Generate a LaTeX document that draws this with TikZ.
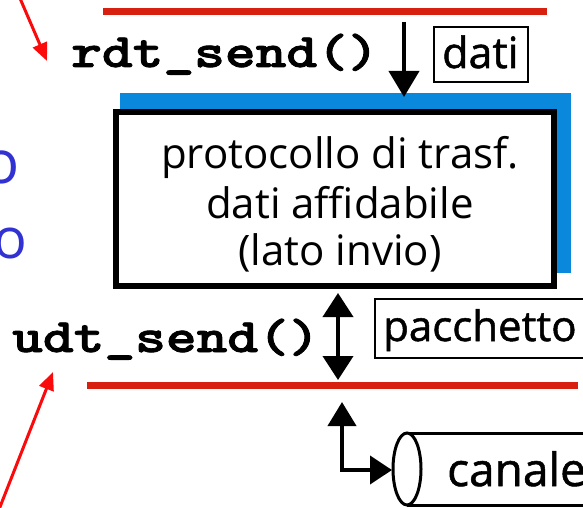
\documentclass[tikz,border=0pt]{standalone}
\usepackage{fontspec}
\setmainfont{Open Sans}
\newfontfamily\heavyfont[FakeBold=1.2]{Open Sans}
\newfontfamily\codefont[Extension=.otf,FakeBold=1.6]{lmmonolt10-bold}
\usetikzlibrary{arrows.meta}
\definecolor{wirered}{RGB}{216,32,16}
\definecolor{pointred}{RGB}{250,10,10}
\definecolor{shadeblue}{RGB}{10,136,220}
\definecolor{noteblue}{RGB}{50,50,210}
\tikzset{
  txt/.style={inner sep=0pt, anchor=base west},
  codelbl/.style={txt, font=\codefont\fontsize{48}{48}\selectfont},
  proto/.style={inner sep=0pt, anchor=base, font=\fontsize{42}{48}\selectfont},
  wire/.style={wirered, line width=7pt},
  pointer/.style={pointred, line width=3pt, -{Triangle[length=18pt,width=15pt]}},
  flow/.style={line width=4pt, -{Triangle[length=26pt,width=30pt]}},
  flowboth/.style={line width=4pt, {Triangle[length=24pt,width=30pt]}-{Triangle[length=24pt,width=30pt]}},
  tag/.style={draw, line width=2pt, inner sep=0pt}
}
\begin{document}
\begin{tikzpicture}[x=1pt,y=-1pt]
\useasboundingbox (0,0) rectangle (583,508);

% service lines (upper and lower interface)
\coordinate (topL) at (103,12);
\coordinate (topR) at (547,12);
\draw[wire] (topL) -- (topR);
\coordinate (botL) at (87,385);
\coordinate (botR) at (578,385);
\draw[wire] (botL) -- (botR);

% partially visible side notes
\node[txt, text=noteblue, font=\fontsize{60}{60}\selectfont] (noteA) at (-17,183) {o};
\node[txt, text=noteblue, font=\fontsize{56}{56}\selectfont] (noteB) at (-7,258) {o};

% red pointers
\coordinate (pA0) at (19,-4);
\coordinate (pA1) at (47,61);
\draw[pointer] (pA0) -- (pA1);
\coordinate (pB0) at (-2,512);
\coordinate (pB1) at (53,372);
\draw[pointer] (pB0) -- (pB1);

% function names
\node[codelbl] (rdt) at (71,67) {\scalebox{1.22}[1]{rdt\_send()}};
\node[codelbl] (udt) at (12,352) {\scalebox{1.22}[1]{udt\_send()}};

% protocol box with its blue shadow
\fill[shadeblue] (120,93) rectangle (571,273);
\draw[line width=6pt, fill=white] (116,112) rectangle (554,286);
\node[proto] (t1) at (340,168) {protocollo di trasf.};
\node[proto] (t2) at (340,218) {dati affidabile};
\node[proto] (t3) at (340,265) {(lato invio)};

% data coming down from the upper layer
\coordinate (inTop) at (404,22);
\coordinate (inBot) at (404,97);
\draw[flow] (inTop) -- (inBot);
\draw[tag] (434,27) rectangle (528,82);
\node[txt, font=\heavyfont\fontsize{43}{43}\selectfont] (dati) at (442,68) {dati};

% packets exchanged with the lower layer
\coordinate (pkTop) at (338,293);
\coordinate (pkBot) at (338,380);
\draw[flowboth] (pkTop) -- (pkBot);
\draw[tag] (375,299) rectangle (600,358);
\node[txt, font=\heavyfont\fontsize{42}{42}\selectfont] (pkt) at (383,341) {pacchetto};

% channel (cylinder) and its connection
\draw[line width=3pt] (407,433) -- (600,433);
\draw[line width=3pt] (407,505) -- (600,505);
\draw[line width=3pt, fill=white] (407,469) ellipse [x radius=14pt, y radius=36pt];
\coordinate (chIn) at (392,470);
\coordinate (chUp) at (342,402);
\draw[line width=4pt, {Triangle[length=24pt,width=28pt]}-{Triangle[length=22pt,width=28pt]}] (chUp) |- (chIn);
\node[txt, font=\heavyfont\fontsize{46}{46}\selectfont] (canale) at (447,486) {canale};
\end{tikzpicture}
\end{document}
